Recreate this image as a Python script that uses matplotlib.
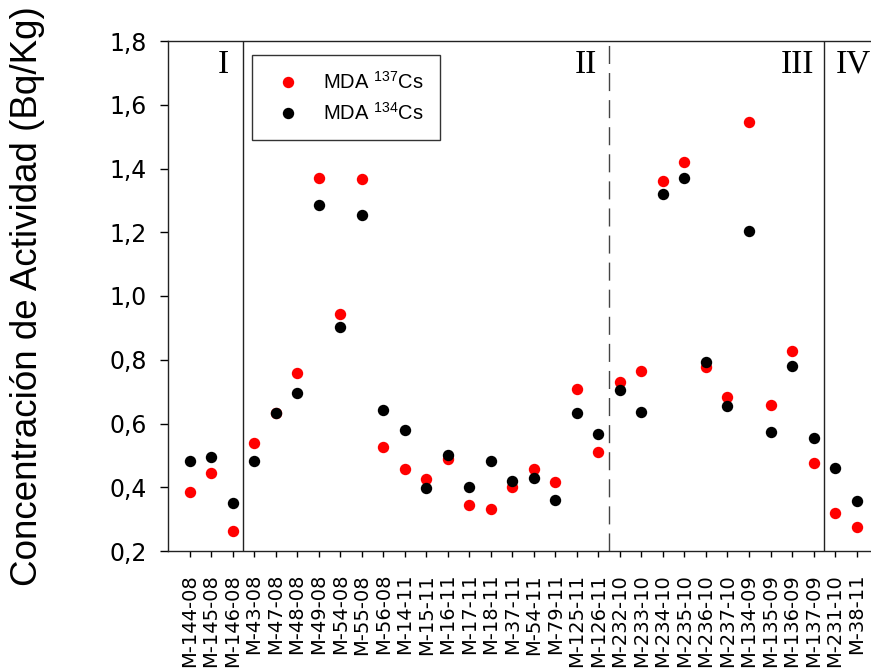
import matplotlib
matplotlib.use('Agg')
import matplotlib.pyplot as plt
from matplotlib.ticker import FuncFormatter

plt.rcParams['font.family'] = 'Liberation Sans'
plt.rcParams['mathtext.fontset'] = 'custom'
plt.rcParams['mathtext.rm'] = 'Liberation Sans'

# sample codes along the x axis
samples = ['M-144-08', 'M-145-08', 'M-146-08', 'M-43-08', 'M-47-08', 'M-48-08',
           'M-49-08', 'M-54-08', 'M-55-08', 'M-56-08', 'M-14-11', 'M-15-11',
           'M-16-11', 'M-17-11', 'M-18-11', 'M-37-11', 'M-54-11', 'M-79-11',
           'M-125-11', 'M-126-11', 'M-232-10', 'M-233-10', 'M-234-10', 'M-235-10',
           'M-236-10', 'M-237-10', 'M-134-09', 'M-135-09', 'M-136-09', 'M-137-09',
           'M-231-10', 'M-38-11']

# minimum detectable activity (Bq/Kg)
mda_cs137 = [0.385, 0.446, 0.262, 0.540, 0.634, 0.757, 1.371, 0.944, 1.367, 0.525,
             0.457, 0.425, 0.488, 0.343, 0.331, 0.402, 0.456, 0.415, 0.707, 0.512,
             0.731, 0.764, 1.362, 1.419, 0.778, 0.683, 1.546, 0.658, 0.827, 0.475,
             0.318, 0.274]
mda_cs134 = [0.482, 0.494, 0.352, 0.482, 0.634, 0.695, 1.285, 0.903, 1.254, 0.642,
             0.580, 0.399, 0.501, 0.402, 0.482, 0.421, 0.428, 0.360, 0.634, 0.566,
             0.705, 0.636, 1.321, 1.370, 0.792, 0.656, 1.205, 0.574, 0.781, 0.553,
             0.461, 0.357]

# zone boundaries (between samples) and zone labels
solid_bounds = [2.5, 29.5]
dashed_bounds = [19.5]
zones = ['I', 'II', 'III', 'IV']
zone_pos = [1.55, 18.44, 28.25, 30.84]

fig = plt.figure(figsize=(8.71, 6.71), dpi=100)
ax = fig.add_axes([168 / 871, 1 - 551 / 671, 703 / 871, 510 / 671])

x = list(range(len(samples)))
ax.plot(x, mda_cs137, 'o', color='#ff0000', ms=8.2, mew=0, label=r'MDA $\mathregular{^{137}}$Cs', zorder=3)
ax.plot(x, mda_cs134, 'o', color='black', ms=8.2, mew=0, label=r'MDA $\mathregular{^{134}}$Cs', zorder=4)

for b in solid_bounds:
    ax.axvline(b, color='#222222', lw=1)
for b in dashed_bounds:
    ax.axvline(b, color='#444444', lw=1, dashes=(13, 6.5))

for z, p in zip(zones, zone_pos):
    ax.text(p, 1.70, z, family='Liberation Serif', fontsize=24, ha='center', va='baseline')

ax.set_xlim(-1, 31.67)
ax.set_ylim(0.2, 1.8)
ax.set_yticks([0.2, 0.4, 0.6, 0.8, 1.0, 1.2, 1.4, 1.6, 1.8])
ax.yaxis.set_major_formatter(FuncFormatter(lambda v, p: f'{v:.1f}'.replace('.', ',')))
ax.set_xticks(x)
ax.set_xticklabels(samples, rotation=90, family='DejaVu Sans', fontsize=14)
for lab in ax.get_yticklabels():
    lab.set_family('DejaVu Sans')
    lab.set_fontsize(17)
ax.tick_params(axis='y', direction='out', length=6, width=1, pad=9)
ax.tick_params(axis='x', direction='out', length=4.5, width=1, pad=12)

ax.spines['right'].set_visible(False)
for s in ['left', 'top', 'bottom']:
    ax.spines[s].set_linewidth(1)
    ax.spines[s].set_color('#222222')

leg = ax.legend(loc='upper left', bbox_to_anchor=(251.7 / 871, 1 - 55 / 671),
                bbox_transform=fig.transFigure, fontsize=14.5, frameon=True,
                fancybox=False, edgecolor='black', borderpad=0.8, handlelength=2.0,
                handletextpad=0.75, labelspacing=0.45, borderaxespad=0, markerscale=1.0)
leg.get_frame().set_linewidth(1)

fig.text(28 / 871, 1 - 296 / 671, 'Concentración de Actividad (Bq/Kg)', rotation=90,
         fontsize=26.5, ha='center', va='center')

plt.savefig('out.png', dpi=100)
plt.close('all')
